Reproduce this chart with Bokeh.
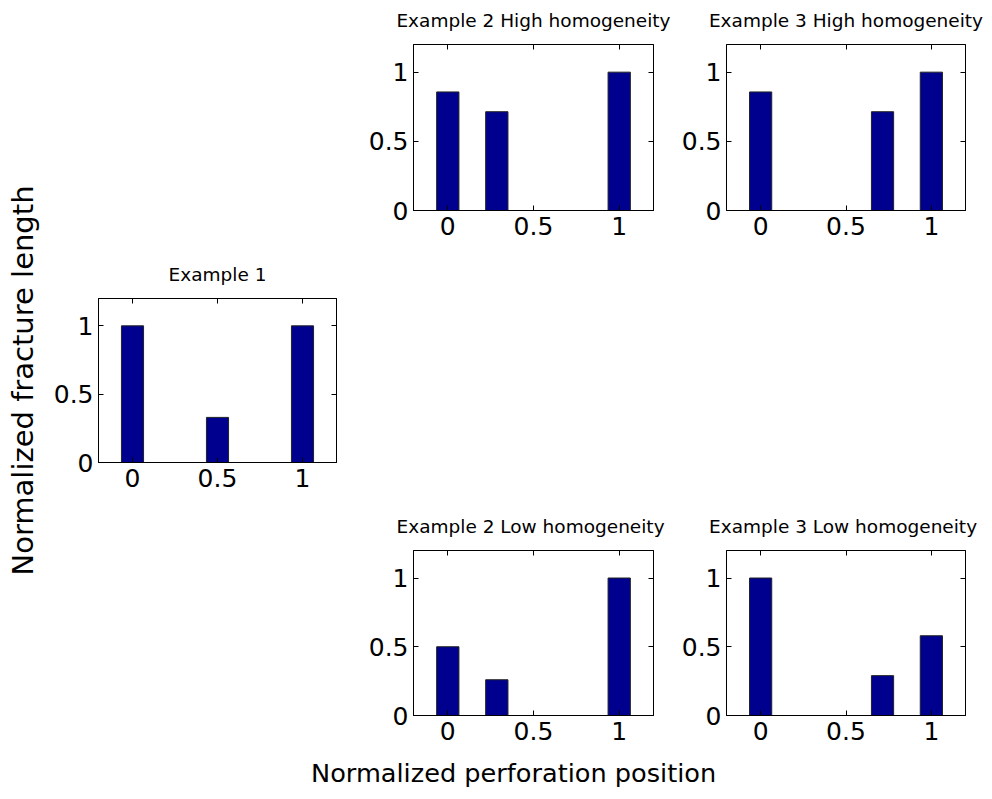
from bokeh.plotting import figure
from bokeh.models import LinearAxis, FixedTicker, Spacer, Div, Range1d
from bokeh.layouts import row, column
from bokeh.embed import file_html
from bokeh.resources import INLINE

# ---- data ----
tick_values = [0, 0.5, 1]
tick_labels = ["0", "0.5", "1"]

ex1_title = "Example 1"
ex1_x = [0, 0.5, 1]
ex1_y = [1.0, 0.33, 1.0]

ex2h_title = "Example 2 High homogeneity"
ex2h_x = [0, 0.286, 1]
ex2h_y = [0.857, 0.714, 1.0]

ex3h_title = "Example 3 High homogeneity"
ex3h_x = [0, 0.714, 1]
ex3h_y = [0.857, 0.714, 1.0]

ex2l_title = "Example 2 Low  homogeneity"
ex2l_x = [0, 0.286, 1]
ex2l_y = [0.5, 0.26, 1.0]

ex3l_title = "Example 3 Low  homogeneity"
ex3l_x = [0, 0.714, 1]
ex3l_y = [1.0, 0.29, 0.58]

y_label = "Normalized fracture length"
x_label = "Normalized perforation position"

FONT = "DejaVu Sans"
BAR_COLOR = "#00008F"


def style_axis(ax, show_labels=True, standoff=5):
    ax.ticker = FixedTicker(ticks=tick_values)
    ax.minor_tick_line_color = None
    ax.major_tick_in = 5
    ax.major_tick_out = 0
    ax.axis_line_color = "black"
    ax.major_tick_line_color = "black"
    if show_labels:
        ax.major_label_overrides = {v: l for v, l in zip(tick_values, tick_labels)}
        ax.major_label_text_font = FONT
        ax.major_label_text_font_size = "25px"
        ax.major_label_text_color = "black"
        ax.major_label_standoff = standoff
    else:
        ax.major_label_overrides = {v: "" for v in tick_values}
        ax.major_label_text_font_size = "1px"
        ax.major_label_standoff = standoff


def make(title, xs, ys, fw, fh, bl, br, bt, bb, ylab=None):
    p = figure(frame_width=fw, frame_height=fh,
               x_range=Range1d(-0.2, 1.2), y_range=Range1d(0, 1.2),
               output_backend="svg", toolbar_location=None,
               min_border_left=bl, min_border_right=br,
               min_border_top=bt, min_border_bottom=bb)
    p.xgrid.visible = False
    p.ygrid.visible = False
    p.outline_line_color = "black"
    p.background_fill_color = "white"
    p.border_fill_color = "white"
    style_axis(p.xaxis[0], standoff=6)
    style_axis(p.yaxis[0], standoff=5)
    # top axis: inward ticks, and the subplot title as its label
    top = LinearAxis()
    style_axis(top, False, standoff=0)
    top.axis_label = title
    top.axis_label_text_font = FONT
    top.axis_label_text_font_size = "18.5px"
    top.axis_label_text_font_style = "normal"
    top.axis_label_text_color = "black"
    top.axis_label_standoff = 14
    p.add_layout(top, "above")
    right = LinearAxis()
    style_axis(right, False, standoff=0)
    p.add_layout(right, "right")
    if ylab:
        p.yaxis[0].axis_label = ylab
        p.yaxis[0].axis_label_text_font = FONT
        p.yaxis[0].axis_label_text_font_size = "29px"
        p.yaxis[0].axis_label_text_font_style = "normal"
        p.yaxis[0].axis_label_text_color = "black"
        p.yaxis[0].axis_label_standoff = 11
    p.vbar(x=xs, top=ys, width=0.13, bottom=0,
           fill_color=BAR_COLOR, line_color="#222222", line_width=1)
    return p


# page origin is (0, 0); positions match the reference picture
ex1 = make(ex1_title, ex1_x, ex1_y, 238, 164, 98, 29, 298, 291, ylab=y_label)
ex2h = make(ex2h_title, ex2h_x, ex2h_y, 240, 166, 48, 25, 44, 39)
ex2l = make(ex2l_title, ex2l_x, ex2l_y, 240, 165, 48, 25, 44, 38)
ex3h = make(ex3h_title, ex3h_x, ex3h_y, 239, 166, 48, 19, 44, 39)
ex3l = make(ex3l_title, ex3l_x, ex3l_y, 239, 165, 48, 19, 44, 38)

colA = column(ex1, spacing=0)
colB = column(ex2h, Spacer(width=313, height=257), ex2l, spacing=0)
colC = column(ex3h, Spacer(width=306, height=257), ex3l, spacing=0)
top_row = row(colA, colB, colC, spacing=0)

xl = Div(text=x_label, width=430, height=30,
         styles={"font-family": FONT, "font-size": "25.6px", "color": "black",
                 "white-space": "nowrap", "line-height": "30px"})
bottom_row = row(Spacer(width=306, height=30), xl, spacing=0)

layout = column(top_row, bottom_row, spacing=0)

open("out.html", "w").write(file_html(layout, INLINE))
